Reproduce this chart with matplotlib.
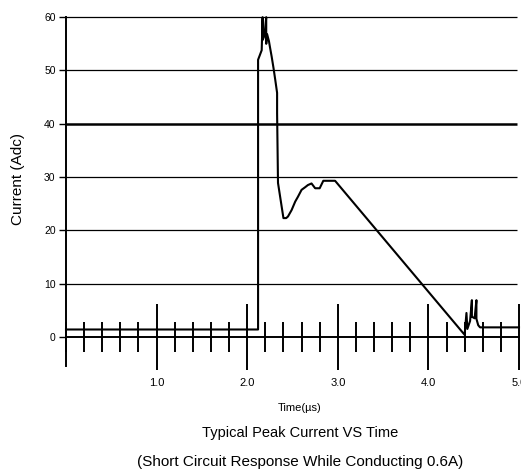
import matplotlib
matplotlib.use("Agg")
import matplotlib.pyplot as plt
from matplotlib.ticker import MultipleLocator

plt.rcParams['font.family'] = ['Liberation Sans', 'DejaVu Sans']

# trace: time in us, current in A
time_us = [0.0, 2.12, 2.12, 2.16, 2.17, 2.17, 2.19, 2.21, 2.21, 2.22, 2.24,
           2.25, 2.27, 2.29, 2.31, 2.33, 2.33, 2.34, 2.40, 2.43, 2.45, 2.49,
           2.53, 2.56, 2.60, 2.64, 2.67, 2.71, 2.75, 2.80, 2.84, 2.97, 4.40,
           4.42, 4.43, 4.46, 4.48, 4.48, 4.51, 4.53, 4.53, 4.55, 4.57, 5.0]
current = [1.4, 1.4, 52.0, 53.8, 60.0, 55.7, 56.5, 60.0, 55.0, 56.8, 55.5,
           54.5, 52.6, 50.5, 48.2, 45.8, 42.0, 28.9, 22.3, 22.3, 22.6, 23.8,
           25.4, 26.3, 27.6, 28.1, 28.5, 28.8, 27.9, 27.9, 29.3, 29.3, 0.4,
           4.5, 1.5, 3.0, 6.9, 3.8, 3.5, 6.9, 3.4, 2.2, 1.8, 1.8]

grid_levels = [10, 20, 30, 40, 50, 60]
grid_widths = [0.9, 0.9, 0.9, 1.8, 0.9, 0.9]
y_ticks = [0, 10, 20, 30, 40, 50, 60]
x_ticks = [1.0, 2.0, 3.0, 4.0, 5.0]
x_labels = ['1.0', '2.0', '3.0', '4.0', '5.0']

fig = plt.figure(figsize=(5.21, 4.70), dpi=100)
ax = fig.add_axes([66 / 521, 100 / 470, 453 / 521, 355.5 / 470])
ax.set_xlim(0, 5.0)
ax.set_ylim(-6.2, 60.5)

for lev, lw in zip(grid_levels, grid_widths):
    ax.hlines(lev, 0, 4.98, color='black', lw=lw, zorder=1)

ax.plot(time_us, current, color='black', lw=1.5, zorder=3, clip_on=False)

for s in ['top', 'right']:
    ax.spines[s].set_visible(False)
ax.spines['bottom'].set_position(('data', 0))
ax.spines['bottom'].set_linewidth(1.4)
ax.spines['left'].set_linewidth(1.4)
ax.spines['left'].set_bounds(-5.5, 60)

ax.set_yticks(y_ticks)
ax.set_yticklabels([str(v) for v in y_ticks])
ax.tick_params(axis='y', direction='out', length=5, width=1.0, pad=2.5, labelsize=7.5)

ax.set_xticks(x_ticks)
ax.set_xticklabels(x_labels)
ax.xaxis.set_minor_locator(MultipleLocator(0.2))
ax.tick_params(axis='x', which='major', direction='inout', length=47, width=1.4,
               pad=6, labelsize=8)
ax.tick_params(axis='x', which='minor', direction='inout', length=22, width=1.4)

fig.text(18 / 521, 1 - 179 / 470, 'Current (Adc)', rotation=90, ha='center',
         va='center', fontsize=11)
fig.text(300 / 521, 1 - 408 / 470, 'Time(\u00b5s)', ha='center', va='center', fontsize=8)
fig.text(300 / 521, 1 - 433 / 470, 'Typical Peak Current VS Time', ha='center',
         va='center', fontsize=10.5)
fig.text(300 / 521, 1 - 462 / 470, '(Short Circuit Response While Conducting 0.6A)',
         ha='center', va='center', fontsize=11)

fig.savefig('out.png', dpi=100)
